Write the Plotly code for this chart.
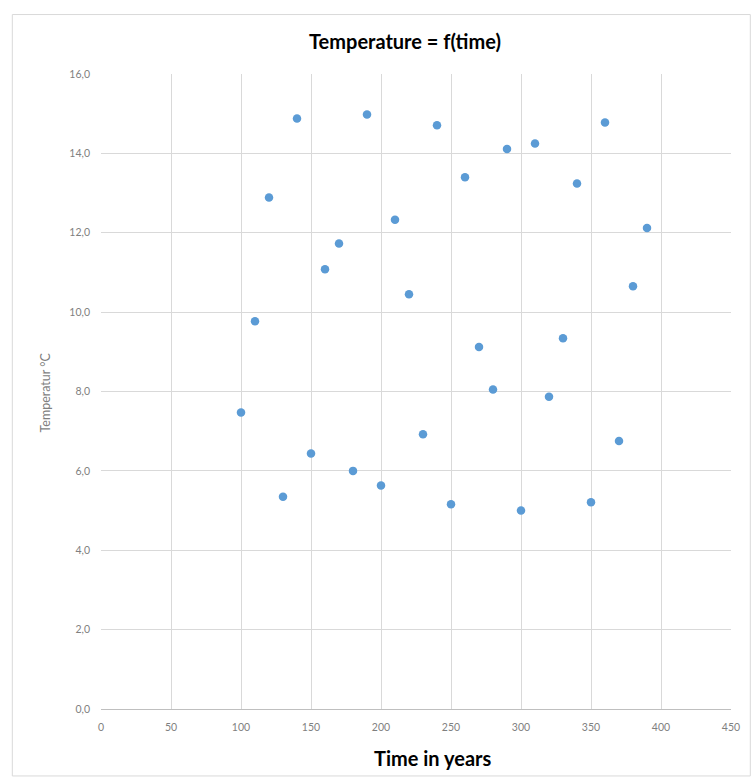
import plotly.graph_objects as go

# Time (years) and measured temperature (°C)
time_years = [100, 110, 120, 130, 140, 150, 160, 170, 180, 190,
              200, 210, 220, 230, 240, 250, 260, 270, 280, 290,
              300, 310, 320, 330, 340, 350, 360, 370, 380, 390]
temperature = [7.47, 9.77, 12.89, 5.35, 14.88, 6.44, 11.08, 11.73, 6.00, 14.98,
               5.63, 12.33, 10.45, 6.92, 14.71, 5.16, 13.40, 9.12, 8.05, 14.11,
               5.00, 14.25, 7.87, 9.34, 13.24, 5.21, 14.78, 6.75, 10.65, 12.12]

x_ticks = [0, 50, 100, 150, 200, 250, 300, 350, 400, 450]
y_ticks = [0, 2, 4, 6, 8, 10, 12, 14, 16]

W, H = 753, 778
L, R, T, B = 100.7, 730.7, 73.5, 709.0

def px_x(p):
    return (p - L) / (R - L)

def px_y(p):
    return (B - p) / (B - T)

fig = go.Figure(
    go.Scatter(
        x=time_years,
        y=temperature,
        mode="markers",
        marker=dict(color="#5B9BD5", size=8.5, line=dict(width=0)),
        showlegend=False,
    )
)

grey = "#7F7F7F"
grid = "#D9D9D9"
font = "Lato, 'Open Sans', sans-serif"

fig.update_layout(
    width=W,
    height=H,
    margin=dict(l=L, r=W - R, t=T, b=H - B, pad=0),
    paper_bgcolor="white",
    plot_bgcolor="white",
    separators=", ",
    font=dict(family=font, color=grey, size=10),
    xaxis=dict(
        range=[0, 450],
        tickvals=x_ticks,
        showgrid=True,
        gridcolor=grid,
        gridwidth=1,
        zeroline=False,
        showline=True,
        linecolor="#BFBFBF",
        linewidth=1,
        ticks="",
        tickfont=dict(size=10.5, color=grey),
        ticklabelstandoff=8,
    ),
    yaxis=dict(
        range=[0, 16],
        tickvals=y_ticks,
        tickformat=".1f",
        showgrid=True,
        gridcolor=grid,
        gridwidth=1,
        zeroline=False,
        showline=False,
        ticks="",
        tickfont=dict(size=10.5, color=grey),
        ticklabelstandoff=10,
    ),
    shapes=[
        dict(
            type="rect", xref="paper", yref="paper",
            x0=px_x(12), x1=px_x(750), y0=px_y(776), y1=px_y(14),
            line=dict(color="#D9D9D9", width=1), fillcolor="rgba(0,0,0,0)",
            layer="below",
        )
    ],
    annotations=[
        dict(
            text="<b>Temperature = f(time)</b>",
            xref="paper", yref="paper", x=px_x(405), y=px_y(40),
            xanchor="center", yanchor="middle", showarrow=False,
            font=dict(family=font, size=20, color="#000000"),
        ),
        dict(
            text="<b>Time in years</b>",
            xref="paper", yref="paper", x=px_x(432), y=px_y(758),
            xanchor="center", yanchor="middle", showarrow=False,
            font=dict(family=font, size=20, color="#000000"),
        ),
        dict(
            text="Temperatur °C",
            xref="paper", yref="paper", x=px_x(45), y=px_y(392),
            xanchor="center", yanchor="middle", showarrow=False, textangle=-90,
            font=dict(family=font, size=12.5, color=grey),
        ),
    ],
)

fig.write_html("out.html")
